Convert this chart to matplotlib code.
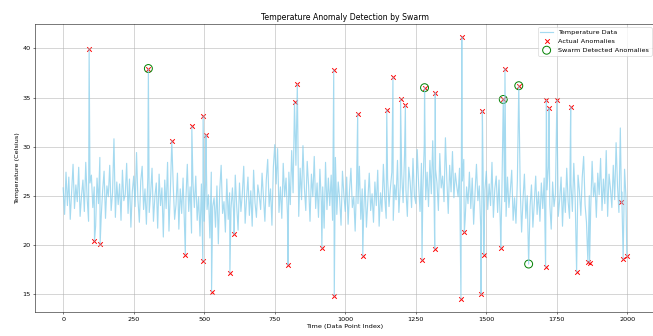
import matplotlib
matplotlib.use("Agg")
import matplotlib.pyplot as plt

# temperature readings sampled every 5 points (one row = 100 indices)
base_step = 5
base_temps = [
    25.8, 23.1, 27.4, 24.0, 26.9, 22.6, 25.5, 28.2, 23.7, 26.1, 24.4, 27.9, 22.9, 25.0, 26.6, 23.4, 28.4, 24.7, 22.4, 26.3,
    27.1, 23.8, 25.9, 21.9, 26.8, 24.2, 28.9, 23.0, 25.6, 27.5, 22.7, 26.0, 24.9, 28.1, 23.5, 25.3, 30.8, 22.8, 26.4, 24.1,
    26.2, 22.5, 27.6, 24.5, 25.1, 28.3, 23.2, 26.7, 21.8, 25.4, 27.0, 23.9, 29.4, 24.6, 22.3, 26.5, 28.0, 23.6, 25.7, 22.1,
    26.9, 23.3, 25.2, 27.8, 22.4, 24.9, 26.3, 21.7, 27.2, 24.0, 25.8, 20.8, 26.6, 23.7, 28.4, 21.4, 25.5, 23.0, 26.1, 22.6,
    24.1, 27.3, 21.6, 25.7, 23.2, 26.8, 22.0, 24.6, 28.2, 23.4, 25.9, 21.2, 26.4, 23.8, 27.0, 22.5, 24.9, 20.9, 26.2, 23.1,
    22.4, 26.5, 23.6, 25.1, 20.7, 27.4, 23.9, 24.8, 21.8, 26.0, 20.1, 25.6, 28.1, 23.2, 24.4, 21.3, 26.7, 22.6, 25.3, 23.7,
    25.8, 22.7, 27.1, 24.0, 21.5, 26.3, 23.4, 25.2, 28.0, 22.2, 24.7, 26.9, 23.0, 25.5, 21.9, 27.6, 24.3, 22.8, 26.1, 25.0,
    23.6, 27.3, 24.8, 22.4, 26.6, 28.7, 23.9, 25.7, 22.0, 27.9, 30.2, 26.2, 29.8, 23.3, 25.9, 22.7, 28.3, 24.9, 26.8, 23.1,
    27.4, 24.1, 29.6, 25.3, 23.2, 28.1, 26.5, 22.9, 27.8, 24.6, 30.1, 25.8, 23.5, 28.5, 26.0, 22.4, 27.2, 24.9, 29.0, 23.7,
    26.3, 22.8, 27.7, 24.4, 25.9, 21.7, 28.4, 23.6, 26.8, 24.0, 27.1, 22.5, 25.6, 28.9, 23.1, 26.4, 24.7, 22.0, 27.5, 25.1,
    23.4, 26.9, 22.1, 25.5, 27.8, 23.8, 24.9, 21.4, 26.3, 24.2, 28.0, 22.6, 25.7, 23.0, 26.6, 21.8, 24.5, 27.3, 23.5, 25.2,
    22.3, 26.4, 24.0, 27.6, 21.9, 25.3, 23.4, 28.2, 24.8, 22.7, 26.7, 23.9, 25.8, 27.4, 22.5, 26.1, 24.6, 28.6, 23.3, 25.9,
    27.2, 24.3, 29.1, 25.6, 22.9, 27.9, 26.4, 23.8, 28.8, 25.0, 24.2, 29.7, 26.1, 23.4, 28.3, 25.5, 30.2, 24.6, 27.4, 23.9,
    28.6, 25.2, 30.6, 24.1, 27.7, 26.3, 23.5, 29.3, 25.8, 27.0, 24.4, 30.9, 26.6, 23.2, 28.1, 25.4, 29.5, 24.8, 27.3, 26.0,
    24.9, 27.8, 23.0, 26.5, 28.7, 22.6, 25.9, 24.2, 27.4, 23.7, 26.8, 22.1, 25.3, 28.2, 24.5, 26.0, 21.9, 27.1, 23.8, 25.6,
    27.5, 23.6, 26.2, 24.0, 28.4, 22.8, 25.7, 27.0, 23.3, 26.6, 21.7, 25.1, 28.1, 24.4, 22.9, 26.9, 23.8, 25.5, 27.6, 22.5,
    24.8, 22.2, 26.5, 23.5, 25.9, 21.3, 24.6, 27.2, 22.7, 25.0, 18.05, 23.9, 26.1, 21.8, 24.3, 27.0, 23.1, 25.4, 22.4, 26.3,
    23.7, 26.8, 22.5, 25.6, 28.0, 24.1, 21.6, 26.4, 23.9, 25.2, 27.5, 22.9, 24.6, 26.9, 21.9, 25.8, 23.3, 27.8, 24.4, 22.7,
    26.2, 23.4, 28.3, 24.7, 22.6, 27.1, 25.5, 23.0, 26.9, 29.0, 24.1, 22.3, 27.6, 25.0, 23.7, 28.5, 24.9, 26.3, 22.8, 27.3,
    25.1, 28.8, 23.5, 26.7, 24.2, 29.6, 22.9, 27.2, 25.7, 23.8, 28.1, 24.6, 30.4, 26.0, 23.3, 31.9, 25.4, 22.6, 27.7, 24.8,
]

# injected anomalies (index, value)
anomaly_idx = [92, 111, 131, 302, 385, 433, 456, 495, 496, 506, 526, 591, 606, 797, 820, 830, 917, 959, 961,
               1044, 1062, 1147, 1169, 1196, 1213, 1272, 1281, 1317, 1319, 1410, 1413, 1422, 1481, 1486, 1491,
               1551, 1560, 1566, 1615, 1710, 1713, 1722, 1750, 1799, 1820, 1860, 1866, 1979, 1985, 1998]
anomaly_vals = [39.9, 20.4, 20.05, 37.95, 30.6, 19.0, 32.05, 18.4, 33.1, 31.2, 15.25, 17.15, 21.1, 17.95, 34.5, 36.35,
                19.65, 37.8, 14.8, 33.35, 18.85, 33.75, 37.05, 34.8, 34.2, 18.45, 36.0, 19.6, 35.5, 14.5, 41.15, 21.3,
                15.05, 33.65, 19.0, 19.65, 34.8, 37.95, 36.2, 17.75, 34.7, 33.9, 34.7, 34.05, 17.25, 18.25, 18.2,
                24.35, 18.55, 18.9]

# points flagged by the swarm
detected_idx = [302, 1281, 1560, 1615, 1650]

series = {i * base_step: v for i, v in enumerate(base_temps)}
series.update(dict(zip(anomaly_idx, anomaly_vals)))
t_idx = sorted(series)
temps = [series[i] for i in t_idx]
detected_vals = [series[i] for i in detected_idx]

dpi = 653 / 14
fig = plt.figure(figsize=(14, 336 / dpi), dpi=dpi)
ax = fig.add_axes([35 / 653, 24 / 336, 620 / 653, 288 / 336])

ax.plot(t_idx, temps, color='skyblue', lw=1.8, alpha=0.75, label='Temperature Data')
ax.scatter(anomaly_idx, anomaly_vals, color='red', marker='x', s=50, label='Actual Anomalies')
ax.scatter(detected_idx, detected_vals, facecolors='none', edgecolors='green', s=150,
           linewidths=1.5, label='Swarm Detected Anomalies')

ax.set_title('Temperature Anomaly Detection by Swarm')
ax.set_xlabel('Time (Data Point Index)')
ax.set_ylabel('Temperature (Celsius)')
ax.legend(loc='upper right')
ax.grid(True)

fig.savefig('out.png', dpi=dpi)
